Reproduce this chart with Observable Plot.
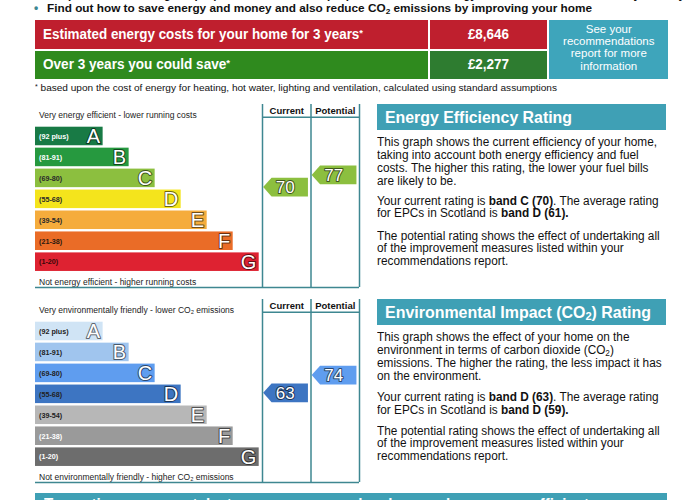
<!DOCTYPE html>
<html><head><meta charset="utf-8">
<script src="https://cdn.jsdelivr.net/npm/d3@7"></script>
<script src="https://cdn.jsdelivr.net/npm/@observablehq/plot@0.6"></script>
<style>
body{margin:0;background:#fff;font-family:"Liberation Sans",Arial,sans-serif;color:#111;}
#page{position:relative;width:700px;height:500px;overflow:hidden;background:#fff;}
.a{position:absolute;white-space:nowrap;}
.b{font-weight:bold;}
.fit{display:inline-block;transform-origin:left center;}
.fitc{display:inline-block;transform-origin:center center;}
.cell{position:absolute;}
.para{position:absolute;left:376.7px;font-size:12px;line-height:12.8px;white-space:nowrap;transform-origin:left top;color:#111;}
.hdr{position:absolute;left:376.7px;width:289.3px;height:26px;background:#3fa0b5;color:#fff;}
.hdr span{position:absolute;left:8.5px;top:4px;font-size:16.5px;line-height:18px;font-weight:bold;}
sub.s{font-size:70%;line-height:0;vertical-align:-0.2em;}
sup.s{font-size:70%;line-height:0;vertical-align:0.35em;}
.chart{position:absolute;left:0;width:370px;height:190px;}
.chart svg{position:absolute;top:0;}
</style></head>
<body><div id="page">

<div class="a b" style="left:35px;top:-12.5px;font-size:12px;line-height:13px;"><span class="fit" data-w="650">• Compare current ratings of properties to see which properties are more energy efficient and environmentally friendly</span></div>
<div class="a b" style="left:34px;top:0.5px;font-size:12px;line-height:15px;color:#3e8791">•</div>
<div class="a b" style="left:46.7px;top:0.5px;font-size:11.5px;line-height:15px;"><span class="fit" data-w="545">Find out how to save energy and money and also reduce CO<sub class="s">2</sub> emissions by improving your home</span></div>

<div class="cell" style="left:35px;top:20px;width:393.3px;height:29px;background:#bf1f2e;"></div>
<div class="cell" style="left:430px;top:20px;width:117.3px;height:29px;background:#bf1f2e;"></div>
<div class="cell" style="left:35px;top:50.7px;width:393.3px;height:28.3px;background:#2f8a1e;"></div>
<div class="cell" style="left:430px;top:50.7px;width:117.3px;height:28.3px;background:#2e7c30;"></div>
<div class="cell" style="left:549.3px;top:20px;width:119px;height:59px;background:#3ea5bb;"></div>

<div class="a b" id="cost0" style="left:42.7px;top:26px;font-size:14px;line-height:17px;color:#fff"></div>
<div class="a b" id="cost1" style="left:42.7px;top:56px;font-size:14px;line-height:17px;color:#fff"></div>
<div class="a b" id="val0" style="left:430px;width:117.3px;text-align:center;top:26px;font-size:14px;line-height:17px;color:#fff"></div>
<div class="a b" id="val1" style="left:430px;width:117.3px;text-align:center;top:56px;font-size:14px;line-height:17px;color:#fff"></div>
<div class="a" id="seeBox" style="left:549.3px;width:119px;text-align:center;top:23px;font-size:11.5px;line-height:12.2px;color:#fff;white-space:normal"></div>

<div class="a" style="left:35px;top:82px;font-size:9.5px;line-height:12px;"><span class="fit" data-w="522"><sup class="s">*</sup> based upon the cost of energy for heating, hot water, lighting and ventilation, calculated using standard assumptions</span></div>

<div class="chart" id="chart1" style="top:104px"></div>
<div class="chart" id="chart2" style="top:299px"></div>

<div class="hdr" style="top:104px"><span class="fit" data-w="187">Energy Efficiency Rating</span></div>
<div class="para" style="top:136.3px"><span id="refLine">This graph shows the current efficiency of your home,</span><br>taking into account both energy efficiency and fuel<br>costs. The higher this rating, the lower your fuel bills<br>are likely to be.</div>
<div class="para" style="top:194.6px">Your current rating is <b>band C (70)</b>. The average rating<br>for EPCs in Scotland is <b>band D (61).</b></div>
<div class="para" style="top:229.6px">The potential rating shows the effect of undertaking all<br>of the improvement measures listed within your<br>recommendations report.</div>

<div class="hdr" style="top:299px"><span class="fit" data-w="266">Environmental Impact (CO<sub class="s">2</sub>) Rating</span></div>
<div class="para" style="top:331.3px">This graph shows the effect of your home on the<br>environment in terms of carbon dioxide (CO<sub class="s">2</sub>)<br>emissions. The higher the rating, the less impact it has<br>on the environment.</div>
<div class="para" style="top:391.3px">Your current rating is <b>band D (63)</b>. The average rating<br>for EPCs in Scotland is <b>band D (59).</b></div>
<div class="para" style="top:424.6px">The potential rating shows the effect of undertaking all<br>of the improvement measures listed within your<br>recommendations report.</div>

<div class="cell" style="left:35px;top:493.3px;width:631.7px;height:20px;background:#3fa0b5;"></div>
<div class="a b" style="left:44px;top:495.5px;font-size:16px;line-height:18px;color:#fff"><span class="fit" data-w="545">Top actions you can take to save money and make your home more efficient</span></div>

</div>
<script>
// ---------- data ----------
const costLabels = ["Estimated energy costs for your home for 3 years", "Over 3 years you could save"];
const costValues = ["£8,646", "£2,277"];

const bandLetters = ["A", "B", "C", "D", "E", "F", "G"];
const bandLabels = ["(92 plus)", "(81-91)", "(69-80)", "(55-68)", "(39-54)", "(21-38)", "(1-20)"];
const bandLow = [92, 81, 69, 55, 39, 21, 1];
const bandHigh = [100, 91, 80, 68, 54, 38, 20];
const ratingColumns = ["Current", "Potential"];
const energyRatings = [70, 77];
const co2Ratings = [63, 74];

// ---------- styles ----------
const energyColors = ["#187a45", "#26993f", "#8cbf3f", "#f4e41c", "#f5ac3c", "#ea6c27", "#de2231"];
const energyLabelColors = ["#ffffff", "#ffffff", "#2a2a2a", "#2a2a2a", "#2a2a2a", "#2a1a10", "#3a0808"];
const co2Colors = ["#d0e4f5", "#a0c5ee", "#5f9def", "#3d75c2", "#b7b7b7", "#9a9a9a", "#6d6d6d"];
const co2LabelColors = ["#222222", "#222222", "#222222", "#222222", "#222222", "#ffffff", "#ffffff"];
const lineColor = "#3e8791";
const FONT = "'Liberation Sans', Arial, sans-serif";

// ---------- top table ----------
document.getElementById("cost0").innerHTML = `<span class="fit" data-w="320">${costLabels[0]}<sup class="s">*</sup></span>`;
document.getElementById("cost1").innerHTML = `<span class="fit" data-w="187">${costLabels[1]}<sup class="s">*</sup></span>`;
document.getElementById("val0").innerHTML = `<span class="fitc" data-w="41">${costValues[0]}</span>`;
document.getElementById("val1").innerHTML = `<span class="fitc" data-w="41">${costValues[1]}</span>`;
document.getElementById("seeBox").innerHTML = "See your<br>recommendations<br>report for more<br>information";

// ---------- charts ----------
// rating -> band position (0 = top of band A, 7 = bottom of band G)
const bandEdges = [bandHigh[0] + 1, ...bandLow];
const ratingToPos = d3.scaleLinear().domain(bandEdges).range(bandEdges.map((_, i) => i)).clamp(true);
const nBands = bandLetters.length;
const A_TOP = 22.7, PITCH = 20.95, GAP = 2.4, MIN_W = 2.6;
const yScale = {domain: [0, nBands], range: [A_TOP, A_TOP + nBands * PITCH], axis: null};
const H = 186;

const arrowSymbol = {
  draw(ctx) {
    const L = -23.6, T = 8.4, R = 21.2, h = 9.3;
    ctx.moveTo(L, 0); ctx.lineTo(L + T, -h); ctx.lineTo(R, -h);
    ctx.lineTo(R, h); ctx.lineTo(L + T, h); ctx.closePath();
  }
};

function ratingChart(el, colors, labelColors, ratings, topText, bottomText) {
  const bands = bandLetters.map((letter, i) => ({
    letter, rank: i, label: bandLabels[i], lo: bandLow[i], hi: bandHigh[i],
    top: ratingToPos(bandHigh[i] + 1), bottom: ratingToPos(bandLow[i]),
    color: colors[i], labelColor: labelColors[i], outline: d3.color(colors[i]).darker(2.2).formatHex()
  }));
  const mid = d => (d.top + d.bottom) / 2;
  const bar = Plot.plot({
    width: 232, height: H, marginLeft: 5, marginRight: 0, marginTop: 0, marginBottom: 3,
    x: {domain: [0, nBands - 1 + MIN_W], range: [5, 228.7], axis: null},
    y: yScale,
    color: {type: "identity"},
    style: {fontFamily: FONT, background: "transparent", overflow: "visible"},
    marks: [
      Plot.rect(bands, {x1: 0, x2: d => d.rank + MIN_W, y1: "top", y2: "bottom", fill: "color", insetBottom: GAP}),
      Plot.text(bands, {x: 0, y: mid, dy: -GAP / 2, dx: 3.5, text: "label", textAnchor: "start",
        fill: "labelColor", fontSize: 7.2, fontWeight: "bold"}),
      Plot.text(bands, {x: d => d.rank + MIN_W, y: mid, dy: -GAP / 2 + 0.5, dx: -3, text: "letter", textAnchor: "end",
        fill: "white", stroke: "outline", strokeWidth: 2, paintOrder: "stroke", fontSize: 20}),
      Plot.text([topText], {x: 0, y: 0, dx: 3.5, dy: -11.5, text: d => d, textAnchor: "start", fontSize: 8.5, fill: "#222"}),
      Plot.text([bottomText], {x: 0, y: nBands, dx: 3.5, dy: 8.3, text: d => d, textAnchor: "start", fontSize: 8.5, fill: "#222"}),
      Plot.ruleY([nBands], {dy: 13.6, stroke: lineColor, strokeWidth: 1.5})
    ]
  });
  bar.style.left = "30px";
  const arrows = ratings.map((value, col) => {
    const bi = bandLow.findIndex(lo => value >= lo);
    return {col, value, pos: ratingToPos(value), color: colors[bi], outline: d3.color(colors[bi]).darker(2.2).formatHex()};
  });
  const cols = Plot.plot({
    width: 110, height: H, marginLeft: 7, marginRight: 6, marginTop: 0, marginBottom: 3,
    x: {domain: [0, ratingColumns.length], axis: null},
    y: yScale,
    color: {type: "identity"},
    style: {fontFamily: FONT, background: "transparent", overflow: "visible"},
    marks: [
      Plot.ruleX(d3.range(ratingColumns.length + 1), {stroke: lineColor, strokeWidth: 1.5}),
      Plot.ruleY([0], {dy: -10, stroke: lineColor, strokeWidth: 1.5}),
      Plot.ruleY([nBands], {dy: 13.6, stroke: lineColor, strokeWidth: 1.5}),
      Plot.text(ratingColumns, {x: (d, i) => i + 0.5, y: 0, dy: -16.5, text: d => d, fontWeight: "bold", fontSize: 9.5, fill: "#111"}),
      Plot.dot(arrows, {x: d => d.col + 0.5, y: "pos", dy: -GAP / 2, symbol: arrowSymbol, r: 10, fill: "color", stroke: "none"}),
      Plot.text(arrows, {x: d => d.col + 0.5, y: "pos", dy: -GAP / 2 + 0.5, dx: -1.5, text: d => String(d.value),
        fill: "white", stroke: "outline", strokeWidth: 2, paintOrder: "stroke", fontSize: 17})
    ]
  });
  cols.style.left = "255px";
  el.append(bar, cols);
}

ratingChart(document.getElementById("chart1"), energyColors, energyLabelColors, energyRatings,
  "Very energy efficient - lower running costs", "Not energy efficient - higher running costs");
ratingChart(document.getElementById("chart2"), co2Colors, co2LabelColors, co2Ratings,
  "Very environmentally friendly - lower CO₂ emissions", "Not environmentally friendly - higher CO₂ emissions");

// ---------- text fitting ----------
function fitAll() {
  document.querySelectorAll(".fit, .fitc").forEach(el => {
    el.style.transform = "none";
    const w = el.getBoundingClientRect().width;
    el.style.transform = `scaleX(${(+el.dataset.w / w).toFixed(4)})`;
  });
  const ref = document.getElementById("refLine");
  document.querySelectorAll(".para").forEach(p => p.style.transform = "none");
  const s = 280 / ref.getBoundingClientRect().width;
  document.querySelectorAll(".para").forEach(p => p.style.transform = `scaleX(${s.toFixed(4)})`);
}
fitAll();
if (document.fonts) document.fonts.ready.then(fitAll);
</script>
</body></html>
